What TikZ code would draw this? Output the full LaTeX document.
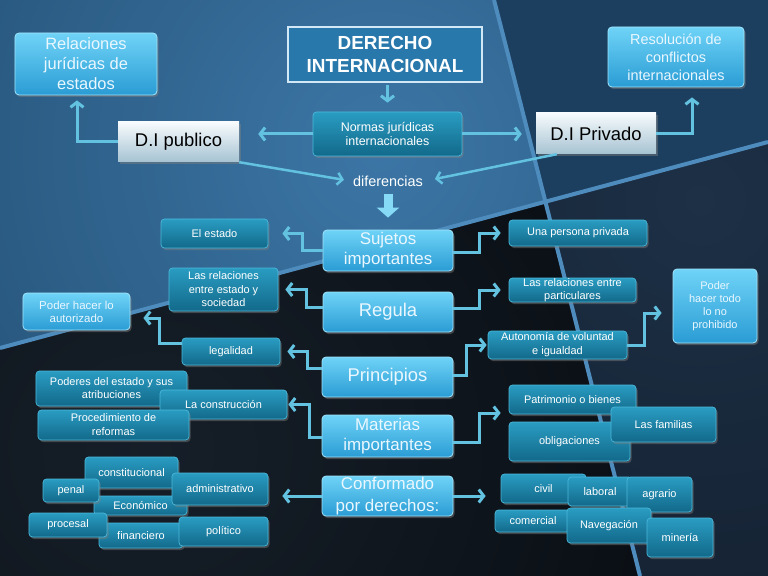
\documentclass[tikz,border=0pt]{standalone}
\usepackage{fontspec}
\setmainfont{Liberation Sans}
\usetikzlibrary{arrows.meta,shadows}
\definecolor{skyT}{HTML}{6FD3F7}
\definecolor{skyB}{HTML}{2A9CD4}
\definecolor{skyE}{HTML}{A0E4FA}
\definecolor{skyText}{HTML}{EAF7FF}
\definecolor{tealT}{HTML}{2A9CC2}
\definecolor{tealB}{HTML}{12698A}
\definecolor{tealE}{HTML}{4AB8DA}
\definecolor{dixT}{HTML}{F7FBFD}
\definecolor{dixB}{HTML}{A6C3D2}
\definecolor{derFill}{HTML}{2878AC}
\definecolor{derEdge}{HTML}{D2E8F6}
\definecolor{connC}{HTML}{62C2E0}
\definecolor{blockC}{HTML}{86DAF6}
\definecolor{bgLightIn}{HTML}{3C76A6}
\definecolor{bgLightOut}{HTML}{1D4667}
\definecolor{bgMed}{HTML}{1C3F60}
\definecolor{bgNavyIn}{HTML}{1D3046}
\definecolor{bgNavyOut}{HTML}{111C2A}
\definecolor{bgDarkIn}{HTML}{161F29}
\definecolor{bgDarkOut}{HTML}{080C11}
\definecolor{stripe}{HTML}{4F8CBE}
\begin{document}
\begin{tikzpicture}[x=1bp,y=-1bp,
  shad/.style={drop shadow={opacity=0.45,shadow xshift=1.5bp,shadow yshift=-2bp}},
  sky/.style={shad,rounded corners=4bp,top color=skyT,bottom color=skyB,draw=skyE,line width=0.8bp,text=skyText,align=center,inner sep=0pt},
  teal/.style={shad,rounded corners=3.5bp,top color=tealT,bottom color=tealB,draw=tealE,line width=0.7bp,text=white,align=center,inner sep=0pt,font=\fontsize{11}{13}\selectfont},
  dix/.style={shad,top color=dixT,bottom color=dixB,text=black,inner sep=0pt,font=\fontsize{18.5}{20}\selectfont},
  der/.style={fill=derFill,draw=derEdge,line width=1.2bp,text=white,align=center,inner sep=0pt},
  conn/.style={draw=connC,line width=3bp,-{Straight Barb[length=5bp,width=13bp]}},
  conn2/.style={draw=connC,line width=2.5bp,-{Straight Barb[length=5bp,width=12bp]}},
  blockarrow/.style={draw=blockC,line width=9bp,-{Triangle[length=10bp,width=22bp]}},
  big/.style={font=\fontsize{18.5}{20}\selectfont},
  bigtwo/.style={font=\fontsize{17}{20}\selectfont}
]
\useasboundingbox (0,0) rectangle (768,576);
% ---------- background ----------
\shade[inner color=bgDarkIn,outer color=bgDarkOut] (-500,-300) rectangle (700,1100);
\begin{scope}
  \clip (0,0) -- (768,0) -- (768,142) -- (0,348) -- cycle;
  \shade[inner color=bgLightIn,outer color=bgLightOut] (-320,-550) rectangle (1080,850);
  \fill[bgMed] (494,0) .. controls (525,120) and (560,260) .. (640,576) -- (768,576) -- (768,0) -- cycle;
\end{scope}
\begin{scope}
  \clip (0,348) -- (768,142) -- (768,576) -- (0,576) -- cycle;
  \shade[inner color=bgDarkIn,outer color=bgDarkOut] (-450,-100) rectangle (750,1000);
  \begin{scope}
    \clip (494,0) .. controls (525,120) and (560,260) .. (640,576) -- (768,576) -- (768,0) -- cycle;
    \shade[inner color=bgNavyIn,outer color=bgNavyOut] (100,-400) rectangle (1300,800);
  \end{scope}
\end{scope}
\draw[stripe,line width=4bp] (0,348) -- (768,142);
\draw[stripe,line width=4bp] (494,0) .. controls (525,120) and (560,260) .. (640,576);

% ---------- top ----------
\node[der,minimum width=194bp,minimum height=55bp,font=\bfseries\fontsize{19}{24}\selectfont] (der) at (385,54.5) {DERECHO\\INTERNACIONAL};
\node[teal,minimum width=149bp,minimum height=44bp,font=\fontsize{12.5}{15}\selectfont] (normas) at (387.5,134) {Normas jurídicas\\internacionales};
\node[dix,minimum width=121bp,minimum height=40bp] (pub) at (178.5,142) {D.I publico};
\node[dix,minimum width=120bp,minimum height=41bp] (priv) at (596,133.5) {D.I Privado};
\node[sky,minimum width=142bp,minimum height=62bp,font=\fontsize{16.5}{20}\selectfont] (rel) at (86,64) {Relaciones\\jurídicas de\\estados};
\node[sky,minimum width=136bp,minimum height=60bp,font=\fontsize{14.5}{18}\selectfont] (res) at (676,57) {Resolución de\\conflictos\\internacionales};
\node[text=white,font=\fontsize{14.5}{16}\selectfont,inner sep=2bp] (dif) at (388,181) {diferencias};

% ---------- centre column ----------
\node[sky,bigtwo,minimum width=130bp,minimum height=41bp] (suj) at (388,250.5) {Sujetos\\importantes};
\node[sky,big,minimum width=130bp,minimum height=40bp] (reg) at (388,312) {Regula};
\node[sky,big,minimum width=131bp,minimum height=40bp] (pri) at (387.5,377) {Principios};
\node[sky,bigtwo,minimum width=131bp,minimum height=42bp] (mat) at (387.5,436) {Materias\\importantes};
\node[sky,font=\fontsize{17}{22}\selectfont,minimum width=131bp,minimum height=40bp] (con) at (387.5,496) {Conformado\\por derechos:};

% ---------- left side ----------
\node[teal,minimum width=107bp,minimum height=29bp] (estado) at (214.5,233.5) {El estado};
\node[teal,minimum width=109bp,minimum height=43bp,font=\fontsize{11}{13.5}\selectfont] (relest) at (223.5,289.5) {Las relaciones\\entre estado y\\sociedad};
\node[sky,font=\fontsize{11.5}{13}\selectfont,minimum width=107bp,minimum height=37bp] (podaut) at (76.5,311.5) {Poder hacer lo\\autorizado};
\node[teal,minimum width=98bp,minimum height=27bp] (legal) at (231,351.5) {legalidad};
\node[teal,minimum width=151bp,minimum height=35bp] (poderes) at (111.5,388.5) {Poderes del estado y sus\\atribuciones};
\node[teal,minimum width=127bp,minimum height=29bp] (constr) at (223.5,404.5) {La construcción};
\node[teal,font=\fontsize{11}{14}\selectfont,minimum width=151bp,minimum height=30bp] (proc) at (113.5,425) {Procedimiento de\\reformas};
\node[teal,minimum width=93bp,minimum height=31bp] (constit) at (131.5,472.5) {constitucional};
\node[teal,minimum width=93bp,minimum height=19bp] (econ) at (140.5,505.5) {Económico};
\node[teal,minimum width=56bp,minimum height=23bp] (penal) at (71,490.5) {penal};
\node[teal,minimum width=96bp,minimum height=32bp] (admin) at (220,489) {administrativo};
\node[teal,minimum width=84bp,minimum height=25bp] (financ) at (141,535.5) {financiero};
\node[teal,minimum width=78bp,minimum height=24bp] (procesal) at (68,525) {procesal};
\node[teal,minimum width=89bp,minimum height=29bp] (polit) at (223.5,531.5) {político};

% ---------- right side ----------
\node[teal,minimum width=138bp,minimum height=26bp] (persona) at (578,233) {Una persona privada};
\node[teal,minimum width=127bp,minimum height=24bp] (relpart) at (572.5,290) {Las relaciones entre\\particulares};
\node[teal,font=\fontsize{11}{14}\selectfont,minimum width=139bp,minimum height=28bp] (auton) at (557.5,345) {Autonomía de voluntad\\e igualdad};
\node[sky,font=\fontsize{11}{13}\selectfont,minimum width=84bp,minimum height=74bp] (podtodo) at (715,306) {Poder\\hacer todo\\lo no\\prohibido};
\node[teal,minimum width=127bp,minimum height=29bp] (patr) at (572.5,399.5) {Patrimonio o bienes};
\node[teal,minimum width=121bp,minimum height=39bp] (oblig) at (569.5,441.5) {obligaciones};
\node[teal,minimum width=105bp,minimum height=35bp] (fam) at (663.5,424.5) {Las familias};
\node[teal,minimum width=85bp,minimum height=29bp] (civil) at (543.5,488.5) {civil};
\node[teal,minimum width=64bp,minimum height=29bp] (laboral) at (600,491.5) {laboral};
\node[teal,minimum width=65bp,minimum height=35bp] (agrario) at (659.5,494.5) {agrario};
\node[teal,minimum width=76bp,minimum height=22bp] (comercial) at (533,521) {comercial};
\node[teal,minimum width=84bp,minimum height=35bp] (naveg) at (609,525.5) {Navegación};
\node[teal,minimum width=66bp,minimum height=39bp] (mineria) at (680,537.5) {minería};

% ---------- connectors ----------
\draw[conn,shorten <=2bp,shorten >=9bp] (der.south -| normas.north) -- (normas.north);
\draw[conn,shorten >=19bp] (normas.west) -- (normas.west -| pub.east);
\draw[conn,shorten >=14bp] (normas.east) -- (normas.east -| priv.west);
\draw[conn,shorten >=5bp] (pub.west) -| ([xshift=-9bp]rel.south);
\draw[conn,shorten >=10bp] (priv.east) -| ([xshift=16bp]res.south);
\draw[conn2,shorten >=7bp] (pub.south east) -- (dif.west);
\draw[conn2,shorten >=10bp] ([xshift=21bp]priv.south west) -- (dif.east);
\draw[blockarrow,shorten <=5bp,shorten >=12bp] (dif.south) -- (suj.north);

\draw[conn,shorten >=14bp] (suj.west) -- ++(-20,0) |- (estado.east);
\draw[conn,shorten >=7bp] ([yshift=5bp]reg.west) -- ++(-16,0) |- (relest.east);
\draw[conn,shorten >=7bp] ([yshift=9bp]pri.west) -- ++(-14,0) |- (legal.east);
\draw[conn,shorten >=13bp] ([yshift=8.5bp]legal.west) -- ++(-22,0) |- ([yshift=-6.5bp]podaut.east);
\draw[conn,shorten >=1bp] ([yshift=-1bp]mat.west) -- ++(-12,0) |- (constr.east);
\draw[conn,shorten >=14bp] (con.west) -- (con.west -| admin.east);

\draw[conn,shorten >=8bp] ([yshift=-1.5bp]suj.east) -- ++(26,0) |- (persona.west);
\draw[conn,shorten >=8bp] ([yshift=4bp]reg.east) -- ++(26,0) |- (relpart.west);
\draw[conn,shorten >=1bp] ([yshift=2bp]pri.east) -- ++(13,0) |- (auton.west);
\draw[conn,shorten >=11bp] (auton.east) -- ++(17,0) |- ([yshift=-7bp]podtodo.west);
\draw[conn,shorten >=8bp] ([yshift=-6bp]mat.east) -- ++(26,0) |- ([yshift=-13.5bp]patr.west);
\draw[conn,shorten >=15bp] (con.east) -- (con.east -| civil.west);
\end{tikzpicture}
\end{document}
